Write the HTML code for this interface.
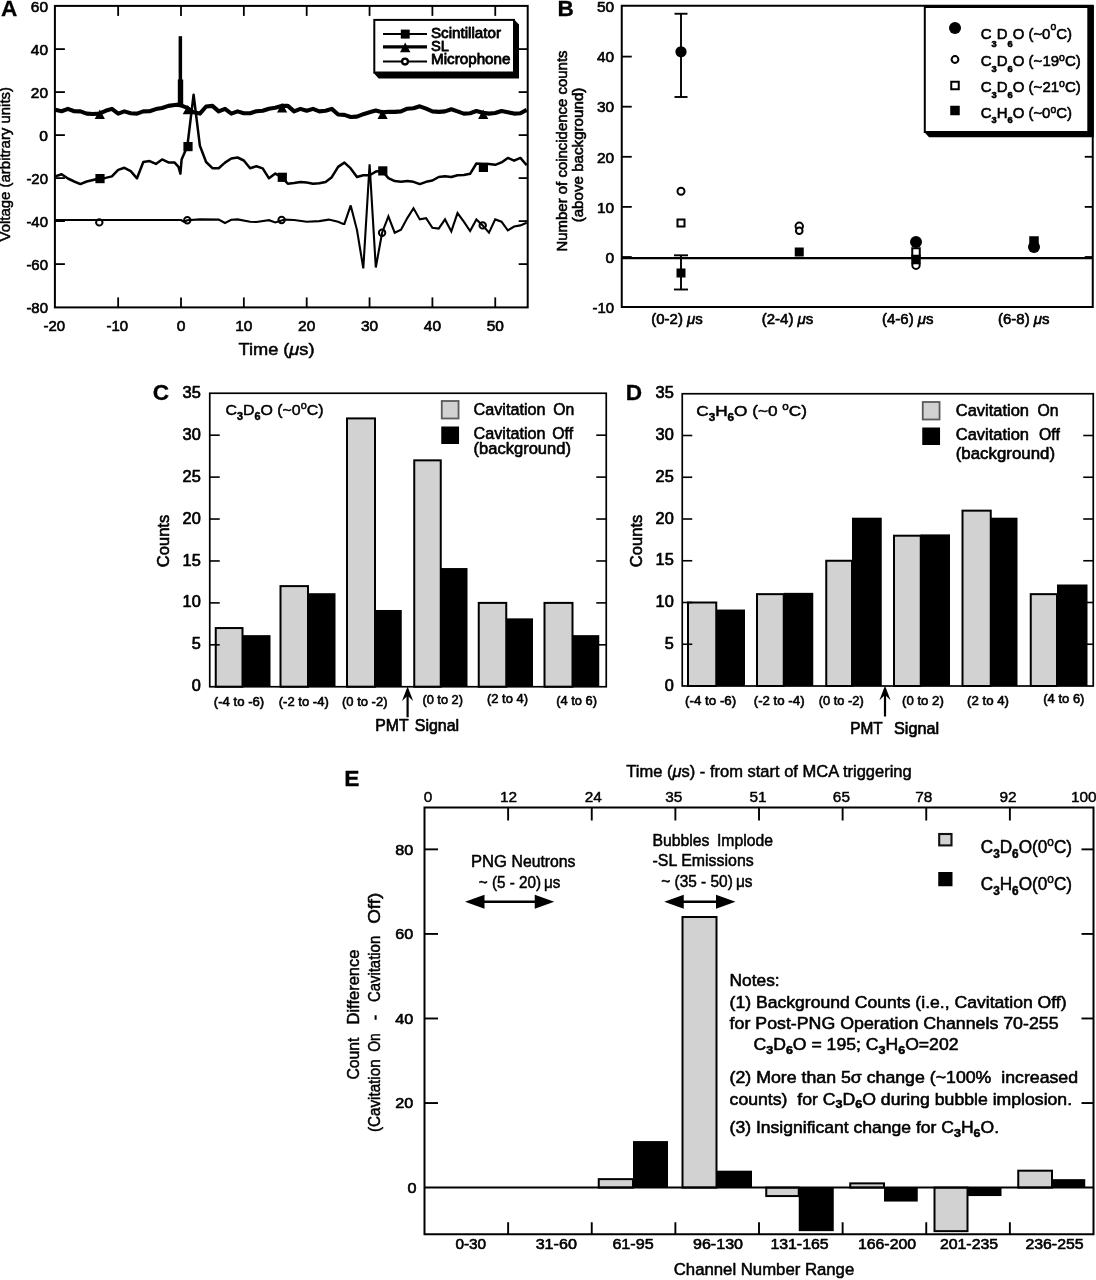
<!DOCTYPE html>
<html lang="en">
<head>
<meta charset="utf-8">
<title>Figure: coincidence and neutron count data</title>
<style>
html,body{margin:0;padding:0;background:#fff;}
body{width:1096px;height:1280px;overflow:hidden;}
svg{display:block;}
svg text{font-family:"Liberation Sans",sans-serif;fill:#000;stroke:#000;stroke-width:0.6px;stroke-linejoin:round;}
svg line, svg polyline{stroke:#000;}
svg rect, svg circle, svg polygon{shape-rendering:geometricPrecision;}
</style>
</head>
<body>
<svg width="1096" height="1280" viewBox="0 0 1096 1280" fill="#000" stroke="none">
<rect x="0" y="0" width="1096" height="1280" fill="#fff"/>
<g id="panelA">
<rect x="54.90" y="5.90" width="472.80" height="301.50" fill="none" stroke="#000" stroke-width="2.0"/>
<line x1="54.9" y1="49.099999999999994" x2="64.9" y2="49.099999999999994" stroke-width="1.8"/>
<line x1="527.7" y1="49.099999999999994" x2="518.7" y2="49.099999999999994" stroke-width="1.8"/>
<line x1="54.9" y1="92.1" x2="64.9" y2="92.1" stroke-width="1.8"/>
<line x1="527.7" y1="92.1" x2="518.7" y2="92.1" stroke-width="1.8"/>
<line x1="54.9" y1="135.1" x2="64.9" y2="135.1" stroke-width="1.8"/>
<line x1="527.7" y1="135.1" x2="518.7" y2="135.1" stroke-width="1.8"/>
<line x1="54.9" y1="178.1" x2="64.9" y2="178.1" stroke-width="1.8"/>
<line x1="527.7" y1="178.1" x2="518.7" y2="178.1" stroke-width="1.8"/>
<line x1="54.9" y1="221.1" x2="64.9" y2="221.1" stroke-width="1.8"/>
<line x1="527.7" y1="221.1" x2="518.7" y2="221.1" stroke-width="1.8"/>
<line x1="54.9" y1="264.1" x2="64.9" y2="264.1" stroke-width="1.8"/>
<line x1="527.7" y1="264.1" x2="518.7" y2="264.1" stroke-width="1.8"/>
<line x1="118.15" y1="5.9" x2="118.15" y2="15.9" stroke-width="1.8"/>
<line x1="118.15" y1="307.4" x2="118.15" y2="297.4" stroke-width="1.8"/>
<line x1="181.0" y1="5.9" x2="181.0" y2="15.9" stroke-width="1.8"/>
<line x1="181.0" y1="307.4" x2="181.0" y2="297.4" stroke-width="1.8"/>
<line x1="243.85" y1="5.9" x2="243.85" y2="15.9" stroke-width="1.8"/>
<line x1="243.85" y1="307.4" x2="243.85" y2="297.4" stroke-width="1.8"/>
<line x1="306.7" y1="5.9" x2="306.7" y2="15.9" stroke-width="1.8"/>
<line x1="306.7" y1="307.4" x2="306.7" y2="297.4" stroke-width="1.8"/>
<line x1="369.55" y1="5.9" x2="369.55" y2="15.9" stroke-width="1.8"/>
<line x1="369.55" y1="307.4" x2="369.55" y2="297.4" stroke-width="1.8"/>
<line x1="432.4" y1="5.9" x2="432.4" y2="15.9" stroke-width="1.8"/>
<line x1="432.4" y1="307.4" x2="432.4" y2="297.4" stroke-width="1.8"/>
<line x1="495.25" y1="5.9" x2="495.25" y2="15.9" stroke-width="1.8"/>
<line x1="495.25" y1="307.4" x2="495.25" y2="297.4" stroke-width="1.8"/>
<text x="48" y="11.799999999999994" font-size="14.4" text-anchor="end" textLength="17.2" lengthAdjust="spacingAndGlyphs">60</text>
<text x="48" y="54.8" font-size="14.4" text-anchor="end" textLength="17.2" lengthAdjust="spacingAndGlyphs">40</text>
<text x="48" y="97.8" font-size="14.4" text-anchor="end" textLength="17.2" lengthAdjust="spacingAndGlyphs">20</text>
<text x="48" y="140.79999999999998" font-size="14.4" text-anchor="end" textLength="8.7" lengthAdjust="spacingAndGlyphs">0</text>
<text x="48" y="183.79999999999998" font-size="14.4" text-anchor="end" textLength="21.6" lengthAdjust="spacingAndGlyphs">-20</text>
<text x="48" y="226.79999999999998" font-size="14.4" text-anchor="end" textLength="21.6" lengthAdjust="spacingAndGlyphs">-40</text>
<text x="48" y="269.8" font-size="14.4" text-anchor="end" textLength="21.6" lengthAdjust="spacingAndGlyphs">-60</text>
<text x="48" y="312.8" font-size="14.4" text-anchor="end" textLength="21.6" lengthAdjust="spacingAndGlyphs">-80</text>
<text x="54.4" y="330.8" font-size="14.4" text-anchor="middle" textLength="21.6" lengthAdjust="spacingAndGlyphs">-20</text>
<text x="117.25" y="330.8" font-size="14.4" text-anchor="middle" textLength="21.6" lengthAdjust="spacingAndGlyphs">-10</text>
<text x="181.0" y="330.8" font-size="14.4" text-anchor="middle" textLength="8.7" lengthAdjust="spacingAndGlyphs">0</text>
<text x="243.85" y="330.8" font-size="14.4" text-anchor="middle" textLength="17.2" lengthAdjust="spacingAndGlyphs">10</text>
<text x="306.7" y="330.8" font-size="14.4" text-anchor="middle" textLength="17.2" lengthAdjust="spacingAndGlyphs">20</text>
<text x="369.55" y="330.8" font-size="14.4" text-anchor="middle" textLength="17.2" lengthAdjust="spacingAndGlyphs">30</text>
<text x="432.4" y="330.8" font-size="14.4" text-anchor="middle" textLength="17.2" lengthAdjust="spacingAndGlyphs">40</text>
<text x="495.25" y="330.8" font-size="14.4" text-anchor="middle" textLength="17.2" lengthAdjust="spacingAndGlyphs">50</text>
<text x="238.5" y="355" font-size="16" textLength="76" lengthAdjust="spacingAndGlyphs" style="stroke-width:0.5px">Time (<tspan font-style="italic">μ</tspan>s)</text>
<text transform="translate(10.2 164.2) rotate(-90)" font-size="15.5" text-anchor="middle" textLength="154.5" lengthAdjust="spacingAndGlyphs" style="stroke-width:0.5px">Voltage (arbitrary units)</text>
<text x="0.9" y="16.1" font-size="22.6" font-weight="bold" style="stroke-width:0.3px">A</text>
<polyline fill="none" stroke-width="4.1" stroke-linejoin="round" points="55.3,109.7 61.6,111.2 67.9,108.9 74.2,111.2 80.4,111.4 86.7,113.6 93.0,114.0 99.3,113.6 105.6,110.8 111.9,108.9 118.2,113.6 124.4,111.4 130.7,113.2 137.0,113.6 143.3,111.4 149.6,111.2 155.9,109.1 162.1,108.0 168.4,105.9 174.7,105.0 178.8,104.6 182.9,106.1 187.3,107.8 193.6,112.3 199.9,113.6 206.1,106.5 212.4,105.9 218.7,111.4 225.0,108.9 231.3,113.6 237.6,111.4 243.8,113.2 250.1,113.2 256.4,111.2 262.7,110.8 269.0,108.7 275.3,107.8 281.6,105.9 287.8,105.9 294.1,111.4 300.4,108.9 306.7,110.8 313.0,108.9 319.3,111.4 325.6,110.8 331.8,108.9 338.1,114.5 344.4,114.9 350.7,117.0 357.0,116.6 363.3,114.2 369.6,112.3 375.8,110.6 382.1,112.3 388.4,111.9 394.7,111.9 401.0,111.4 407.3,108.7 413.5,108.2 419.8,106.3 426.1,108.7 432.4,111.4 438.7,111.9 445.0,111.4 451.3,109.3 457.5,111.4 463.8,113.6 470.1,113.2 476.4,111.0 482.7,112.7 489.0,113.6 495.2,113.0 501.5,111.0 507.8,112.3 514.1,113.6 520.4,113.2 526.7,109.9"/>
<rect x="178.6" y="36.2" width="3.5" height="70.9"/>
<rect x="177.8" y="79.5" width="5.4" height="27.6"/>
<polyline fill="none" stroke-width="2.5" stroke-linejoin="round" points="55.3,176.4 61.6,174.2 67.9,178.5 74.2,181.5 80.4,184.1 86.7,181.5 93.0,180.0 99.3,178.5 105.6,177.9 111.9,176.4 118.2,169.9 124.4,167.8 130.7,171.2 137.0,178.3 143.3,162.0 149.6,161.1 155.9,163.9 162.1,159.4 168.4,162.4 174.7,162.6 178.5,166.9 180.4,173.6 181.6,159.6 184.1,153.8 187.3,146.5 193.6,94.7 199.9,145.8 206.1,162.0 212.4,168.2 218.7,168.2 225.0,162.6 231.3,158.5 237.6,157.5 243.8,160.5 250.1,168.2 256.4,166.3 262.7,168.4 269.0,178.3 275.3,173.6 281.6,177.2 287.8,183.7 294.1,183.0 300.4,182.0 306.7,182.6 313.0,183.7 319.3,183.3 325.6,182.0 331.8,177.2 338.1,166.9 344.4,162.6 350.7,168.4 357.0,177.0 363.3,175.3 369.6,175.3 375.8,171.6 382.1,170.8 388.4,178.1 394.7,181.1 401.0,181.8 407.3,181.1 413.5,181.8 419.8,184.1 426.1,181.8 432.4,180.5 438.7,177.0 445.0,176.2 451.3,177.0 457.5,175.3 463.8,174.9 470.1,173.8 476.4,163.5 482.7,163.9 489.0,163.9 495.2,164.8 501.5,162.4 507.8,157.9 514.1,160.7 520.4,157.9 526.7,165.2"/>
<polyline fill="none" stroke-width="2.1" stroke-linejoin="miter" stroke-miterlimit="3" points="55.3,220.0 181.0,220.0 184.1,221.7 187.3,220.2 199.9,219.4 218.7,219.6 225.0,223.0 231.3,219.8 237.6,219.4 250.1,221.7 256.4,222.0 269.0,220.2 275.3,222.4 284.7,219.6 294.1,220.0 306.7,221.7 319.3,221.1 328.7,219.6 338.1,221.7 343.2,223.9 344.4,223.9 350.7,205.4 357.0,230.1 363.3,268.4 369.6,164.3 375.8,267.5 382.1,232.7 388.4,216.4 394.7,232.7 401.0,229.7 407.3,218.1 413.5,208.2 419.8,219.4 426.1,218.1 432.4,227.8 438.7,228.6 445.0,219.4 451.3,231.4 457.5,213.1 463.8,221.7 470.1,231.0 476.4,219.4 482.7,225.4 489.0,232.7 495.2,219.4 501.5,221.7 507.8,230.3 514.1,226.5 520.4,225.4 526.7,222.8"/>
<rect x="95.4" y="174.0" width="9.2" height="9.2"/>
<rect x="183.4" y="142.0" width="9.2" height="9.2"/>
<rect x="277.7" y="172.7" width="9.2" height="9.2"/>
<rect x="378.2" y="166.3" width="9.2" height="9.2"/>
<rect x="478.8" y="162.8" width="9.2" height="9.2"/>
<polygon points="94.7,119.0 104.9,119.0 99.8,109.6"/>
<polygon points="182.7,114.3 192.9,114.3 187.8,104.9"/>
<polygon points="277.0,112.5 287.2,112.5 282.1,103.1"/>
<polygon points="377.5,119.0 387.7,119.0 382.6,109.6"/>
<polygon points="478.1,119.0 488.3,119.0 483.2,109.6"/>
<circle cx="99.3" cy="222.4" r="3.2" fill="none" stroke="#000" stroke-width="2"/>
<circle cx="187.3" cy="220.2" r="3.2" fill="none" stroke="#000" stroke-width="2"/>
<circle cx="281.6" cy="220.0" r="3.2" fill="none" stroke="#000" stroke-width="2"/>
<circle cx="382.1" cy="232.7" r="3.2" fill="none" stroke="#000" stroke-width="2"/>
<circle cx="482.7" cy="225.4" r="3.2" fill="none" stroke="#000" stroke-width="2"/>
<polygon points="373.2,72.6 378.6,78.4 519,78.4 519,24.4 514.2,19.4 514.2,72.6"/>
<rect x="374.30" y="19.90" width="139.70" height="52.60" fill="#fff" stroke="#000" stroke-width="2"/>
<line x1="383" y1="34.1" x2="427" y2="34.1" stroke-width="2.0"/>
<line x1="383" y1="46.9" x2="427" y2="46.9" stroke-width="3.1"/>
<line x1="383" y1="61.6" x2="427" y2="61.6" stroke-width="2.0"/>
<rect x="400.8" y="29.6" width="8.9" height="9"/>
<polygon points="400,52.2 410.4,52.2 405.2,42.4"/>
<circle cx="405" cy="61.6" r="2.9" fill="#fff" stroke="#000" stroke-width="2.3"/>
<text x="431" y="37.7" font-size="15" textLength="70" lengthAdjust="spacingAndGlyphs" style="stroke-width:0.8px">Scintillator</text>
<text x="431" y="50.9" font-size="15" textLength="18" lengthAdjust="spacingAndGlyphs" style="stroke-width:0.8px">SL</text>
<text x="431" y="64" font-size="15" textLength="79.5" lengthAdjust="spacingAndGlyphs" style="stroke-width:0.8px">Microphone</text>
</g>
<g id="panelB">
<rect x="621.75" y="5.75" width="471.00" height="301.25" fill="none" stroke="#000" stroke-width="2.0"/>
<line x1="621.75" y1="56.60000000000002" x2="631.75" y2="56.60000000000002" stroke-width="1.8"/>
<line x1="1092.75" y1="56.60000000000002" x2="1084.75" y2="56.60000000000002" stroke-width="1.8"/>
<line x1="621.75" y1="106.70000000000002" x2="631.75" y2="106.70000000000002" stroke-width="1.8"/>
<line x1="1092.75" y1="106.70000000000002" x2="1084.75" y2="106.70000000000002" stroke-width="1.8"/>
<line x1="621.75" y1="156.8" x2="631.75" y2="156.8" stroke-width="1.8"/>
<line x1="1092.75" y1="156.8" x2="1084.75" y2="156.8" stroke-width="1.8"/>
<line x1="621.75" y1="206.9" x2="631.75" y2="206.9" stroke-width="1.8"/>
<line x1="1092.75" y1="206.9" x2="1084.75" y2="206.9" stroke-width="1.8"/>
<line x1="621.75" y1="257.0" x2="631.75" y2="257.0" stroke-width="1.8"/>
<line x1="1092.75" y1="257.0" x2="1084.75" y2="257.0" stroke-width="1.8"/>
<line x1="621.75" y1="258.2" x2="1092.75" y2="258.2" stroke-width="2.3"/>
<text x="614.2" y="12.2" font-size="14.4" text-anchor="end" textLength="17.2" lengthAdjust="spacingAndGlyphs">50</text>
<text x="614.2" y="62.300000000000026" font-size="14.4" text-anchor="end" textLength="17.2" lengthAdjust="spacingAndGlyphs">40</text>
<text x="614.2" y="112.40000000000002" font-size="14.4" text-anchor="end" textLength="17.2" lengthAdjust="spacingAndGlyphs">30</text>
<text x="614.2" y="162.5" font-size="14.4" text-anchor="end" textLength="17.2" lengthAdjust="spacingAndGlyphs">20</text>
<text x="614.2" y="212.6" font-size="14.4" text-anchor="end" textLength="17.2" lengthAdjust="spacingAndGlyphs">10</text>
<text x="614.2" y="262.7" font-size="14.4" text-anchor="end" textLength="8.7" lengthAdjust="spacingAndGlyphs">0</text>
<text x="614.2" y="312.8" font-size="14.4" text-anchor="end" textLength="21.6" lengthAdjust="spacingAndGlyphs">-10</text>
<text x="677" y="324" font-size="14.2" text-anchor="middle" textLength="51.5" lengthAdjust="spacingAndGlyphs">(0-2) <tspan font-style="italic">μ</tspan>s</text>
<text x="787.5" y="324" font-size="14.2" text-anchor="middle" textLength="51.5" lengthAdjust="spacingAndGlyphs">(2-4) <tspan font-style="italic">μ</tspan>s</text>
<text x="907.75" y="324" font-size="14.2" text-anchor="middle" textLength="51.5" lengthAdjust="spacingAndGlyphs">(4-6) <tspan font-style="italic">μ</tspan>s</text>
<text x="1023.75" y="324" font-size="14.2" text-anchor="middle" textLength="51.5" lengthAdjust="spacingAndGlyphs">(6-8) <tspan font-style="italic">μ</tspan>s</text>
<text transform="translate(566.5 151) rotate(-90)" font-size="14.6" text-anchor="middle" textLength="201" lengthAdjust="spacingAndGlyphs">Number of coincidence counts</text>
<text transform="translate(583 155) rotate(-90)" font-size="14.6" text-anchor="middle" textLength="134.7" lengthAdjust="spacingAndGlyphs">(above background)</text>
<text x="557.4" y="16.1" font-size="22.6" font-weight="bold" style="stroke-width:0.3px">B</text>
<line x1="681" y1="13.75" x2="681" y2="97" stroke-width="1.9"/>
<line x1="674.5" y1="13.75" x2="687.5" y2="13.75" stroke-width="1.9"/>
<line x1="674.5" y1="97" x2="687.5" y2="97" stroke-width="1.9"/>
<circle cx="681" cy="51.75" r="5.6"/>
<circle cx="681" cy="191.25" r="3.5" fill="#fff" stroke="#000" stroke-width="2"/>
<rect x="677.5" y="219.5" width="7" height="7" fill="#fff" stroke="#000" stroke-width="2"/>
<line x1="681" y1="255.3" x2="681" y2="289.5" stroke-width="1.9"/>
<line x1="674" y1="255.3" x2="688" y2="255.3" stroke-width="1.9"/>
<line x1="674" y1="289.5" x2="688" y2="289.5" stroke-width="1.9"/>
<rect x="676.5" y="268.5" width="9" height="9"/>
<circle cx="799.25" cy="226.2" r="3.7" fill="#fff" stroke="#000" stroke-width="2"/>
<circle cx="799.25" cy="230.8" r="3.3" fill="#fff" stroke="#000" stroke-width="2"/>
<rect x="794.75" y="247.5" width="9" height="9"/>
<circle cx="916" cy="265.2" r="3.7" fill="#fff" stroke="#000" stroke-width="2"/>
<rect x="911.25" y="254.75" width="9.5" height="9.5"/>
<rect x="912.25" y="248.25" width="7.5" height="7.5" fill="#fff" stroke="#000" stroke-width="2"/>
<circle cx="916" cy="242" r="6"/>
<rect x="1029.25" y="236.25" width="9.5" height="9.5"/>
<circle cx="1034" cy="247" r="6"/>
<polygon points="924.2,132 929,137.3 1093.8,137.3 1093.8,5.5 1088,5.5 1088,132"/>
<rect x="924.80" y="7.00" width="163.50" height="125.00" fill="#fff" stroke="#000" stroke-width="2"/>
<circle cx="955" cy="28" r="6"/>
<circle cx="955" cy="59.5" r="3.4" fill="#fff" stroke="#000" stroke-width="2"/>
<rect x="951.25" y="81.75" width="7.5" height="7.5" fill="#fff" stroke="#000" stroke-width="2"/>
<rect x="950.25" y="105.75" width="9.5" height="9.5"/>
<text x="980.75" y="38.75" font-size="15.5" textLength="91.25" lengthAdjust="spacingAndGlyphs">C<tspan font-size="9.6" font-weight="bold" dy="7.8">3</tspan><tspan dy="-7.8">D</tspan><tspan font-size="9.6" font-weight="bold" dy="7.8">6</tspan><tspan dy="-7.8">O</tspan> (~0<tspan font-size="10.8" dy="-8.5">o</tspan><tspan dy="8.5">C</tspan>)</text>
<text x="980.75" y="66.25" font-size="15.5" textLength="100" lengthAdjust="spacingAndGlyphs">C<tspan font-size="9.6" font-weight="bold" dy="5.6">3</tspan><tspan dy="-5.6">D</tspan><tspan font-size="9.6" font-weight="bold" dy="5.6">6</tspan><tspan dy="-5.6">O</tspan> (~19<tspan font-size="10.8" dy="-5">o</tspan><tspan dy="5">C</tspan>)</text>
<text x="980.75" y="92" font-size="15.5" textLength="100" lengthAdjust="spacingAndGlyphs">C<tspan font-size="9.6" font-weight="bold" dy="5.6">3</tspan><tspan dy="-5.6">D</tspan><tspan font-size="9.6" font-weight="bold" dy="5.6">6</tspan><tspan dy="-5.6">O</tspan> (~21<tspan font-size="10.8" dy="-5">o</tspan><tspan dy="5">C</tspan>)</text>
<text x="980.75" y="117.5" font-size="15.5" textLength="91.25" lengthAdjust="spacingAndGlyphs">C<tspan font-size="9.6" font-weight="bold" dy="5.6">3</tspan><tspan dy="-5.6">H</tspan><tspan font-size="9.6" font-weight="bold" dy="5.6">6</tspan><tspan dy="-5.6">O</tspan> (~0<tspan font-size="10.8" dy="-5">o</tspan><tspan dy="5">C</tspan>)</text>
</g>
<g id="panelC">
<rect x="242.50" y="635.14" width="28.00" height="51.61"/>
<rect x="215.75" y="628.05" width="26.75" height="58.70" fill="#d2d2d2" stroke="#000" stroke-width="2.0"/>
<rect x="308.00" y="593.21" width="27.50" height="93.54"/>
<rect x="280.50" y="586.12" width="27.50" height="100.63" fill="#d2d2d2" stroke="#000" stroke-width="2.0"/>
<rect x="375.00" y="609.98" width="26.75" height="76.77"/>
<rect x="347.00" y="418.41" width="28.00" height="268.34" fill="#d2d2d2" stroke="#000" stroke-width="2.0"/>
<rect x="440.75" y="568.05" width="26.75" height="118.70"/>
<rect x="414.25" y="460.34" width="26.50" height="226.41" fill="#d2d2d2" stroke="#000" stroke-width="2.0"/>
<rect x="506.25" y="618.36" width="26.75" height="68.39"/>
<rect x="478.75" y="602.89" width="27.50" height="83.86" fill="#d2d2d2" stroke="#000" stroke-width="2.0"/>
<rect x="572.50" y="635.14" width="26.75" height="51.61"/>
<rect x="544.50" y="602.89" width="28.00" height="83.86" fill="#d2d2d2" stroke="#000" stroke-width="2.0"/>
<rect x="209.75" y="393.25" width="396.50" height="293.50" fill="none" stroke="#000" stroke-width="1.7"/>
<line x1="209.75" y1="644.8214285714286" x2="219.75" y2="644.8214285714286" stroke-width="1.6"/>
<line x1="606.25" y1="644.8214285714286" x2="596.25" y2="644.8214285714286" stroke-width="1.6"/>
<line x1="209.75" y1="602.8928571428571" x2="219.75" y2="602.8928571428571" stroke-width="1.6"/>
<line x1="606.25" y1="602.8928571428571" x2="596.25" y2="602.8928571428571" stroke-width="1.6"/>
<line x1="209.75" y1="560.9642857142857" x2="219.75" y2="560.9642857142857" stroke-width="1.6"/>
<line x1="606.25" y1="560.9642857142857" x2="596.25" y2="560.9642857142857" stroke-width="1.6"/>
<line x1="209.75" y1="519.0357142857142" x2="219.75" y2="519.0357142857142" stroke-width="1.6"/>
<line x1="606.25" y1="519.0357142857142" x2="596.25" y2="519.0357142857142" stroke-width="1.6"/>
<line x1="209.75" y1="477.10714285714283" x2="219.75" y2="477.10714285714283" stroke-width="1.6"/>
<line x1="606.25" y1="477.10714285714283" x2="596.25" y2="477.10714285714283" stroke-width="1.6"/>
<line x1="209.75" y1="435.17857142857144" x2="219.75" y2="435.17857142857144" stroke-width="1.6"/>
<line x1="606.25" y1="435.17857142857144" x2="596.25" y2="435.17857142857144" stroke-width="1.6"/>
<text x="200.75" y="691.35" font-size="16.3" text-anchor="end" style="stroke-width:0.7px">0</text>
<text x="200.75" y="649.4214285714286" font-size="16.3" text-anchor="end" style="stroke-width:0.7px">5</text>
<text x="200.75" y="607.4928571428571" font-size="16.3" text-anchor="end" textLength="18.2" lengthAdjust="spacingAndGlyphs" style="stroke-width:0.7px">10</text>
<text x="200.75" y="565.5642857142857" font-size="16.3" text-anchor="end" textLength="18.2" lengthAdjust="spacingAndGlyphs" style="stroke-width:0.7px">15</text>
<text x="200.75" y="523.6357142857142" font-size="16.3" text-anchor="end" textLength="18.2" lengthAdjust="spacingAndGlyphs" style="stroke-width:0.7px">20</text>
<text x="200.75" y="481.70714285714286" font-size="16.3" text-anchor="end" textLength="18.2" lengthAdjust="spacingAndGlyphs" style="stroke-width:0.7px">25</text>
<text x="200.75" y="439.77857142857147" font-size="16.3" text-anchor="end" textLength="18.2" lengthAdjust="spacingAndGlyphs" style="stroke-width:0.7px">30</text>
<text x="200.75" y="397.85" font-size="16.3" text-anchor="end" textLength="18.2" lengthAdjust="spacingAndGlyphs" style="stroke-width:0.7px">35</text>
<text x="152.7" y="400.1" font-size="22.6" font-weight="bold" style="stroke-width:0.3px">C</text>
<text transform="translate(169.25 541.0) rotate(-90)" font-size="17" text-anchor="middle" textLength="52.5" lengthAdjust="spacingAndGlyphs" style="stroke-width:0.6px">Counts</text>
<text x="225.5" y="415" font-size="15.5" textLength="98" lengthAdjust="spacingAndGlyphs" style="stroke-width:0.5px">C<tspan font-size="10.5" font-weight="bold" dy="4.5">3</tspan><tspan dy="-4.5">D</tspan><tspan font-size="10.5" font-weight="bold" dy="4.5">6</tspan><tspan dy="-4.5">O</tspan> (~0<tspan font-size="10.5" dy="-6">o</tspan><tspan dy="6">C</tspan>)</text>
<text x="213.75" y="705.5" font-size="13" textLength="50.5" lengthAdjust="spacingAndGlyphs" style="stroke-width:0.6px">(-4 to -6)</text>
<text x="278.75" y="705.5" font-size="13" textLength="50.0" lengthAdjust="spacingAndGlyphs" style="stroke-width:0.6px">(-2 to -4)</text>
<text x="342" y="705.5" font-size="13" textLength="45.5" lengthAdjust="spacingAndGlyphs" style="stroke-width:0.6px">(0 to -2)</text>
<text x="422.4" y="703.7" font-size="13" textLength="40.6" lengthAdjust="spacingAndGlyphs" style="stroke-width:0.6px">(0 to 2)</text>
<text x="487" y="703" font-size="13" textLength="41" lengthAdjust="spacingAndGlyphs" style="stroke-width:0.6px">(2 to 4)</text>
<text x="556.25" y="704.5" font-size="13" textLength="40.8" lengthAdjust="spacingAndGlyphs" style="stroke-width:0.6px">(4 to 6)</text>
<line x1="407.6" y1="689.75" x2="407.6" y2="717.25" stroke-width="2.2"/>
<polygon points="407.6,686.45 402.0,700.95 407.6,695.75 413.20000000000005,700.95"/>
<text x="375.3" y="731" font-size="16.2" textLength="33.4" lengthAdjust="spacingAndGlyphs" style="stroke-width:0.65px">PMT</text>
<text x="414.8" y="731" font-size="16.2" textLength="44.3" lengthAdjust="spacingAndGlyphs" style="stroke-width:0.65px">Signal</text>
<rect x="441.75" y="401.00" width="16.80" height="17.50" fill="#d2d2d2" stroke="#5a5a5a" stroke-width="1.8"/>
<rect x="441.25" y="426.5" width="17.8" height="17.5"/>
<text x="473.5" y="414.5" font-size="16.2" textLength="72" lengthAdjust="spacingAndGlyphs" style="stroke-width:0.6px">Cavitation</text>
<text x="553.2" y="414.5" font-size="16.2" textLength="21" lengthAdjust="spacingAndGlyphs" style="stroke-width:0.6px">On</text>
<text x="473.5" y="438.6" font-size="16.2" textLength="72" lengthAdjust="spacingAndGlyphs" style="stroke-width:0.6px">Cavitation</text>
<text x="552.3" y="438.6" font-size="16.2" textLength="20.8" lengthAdjust="spacingAndGlyphs" style="stroke-width:0.6px">Off</text>
<text x="473.5" y="454.3" font-size="16.2" textLength="97.5" lengthAdjust="spacingAndGlyphs" style="stroke-width:0.6px">(background)</text>
</g>
<g id="panelD">
<rect x="716.25" y="609.55" width="28.75" height="76.45"/>
<rect x="688.00" y="602.50" width="28.25" height="83.50" fill="#d2d2d2" stroke="#000" stroke-width="2.0"/>
<rect x="783.75" y="592.85" width="29.50" height="93.15"/>
<rect x="757.00" y="594.15" width="26.75" height="91.85" fill="#d2d2d2" stroke="#000" stroke-width="2.0"/>
<rect x="852.00" y="517.70" width="29.75" height="168.30"/>
<rect x="826.25" y="560.75" width="25.75" height="125.25" fill="#d2d2d2" stroke="#000" stroke-width="2.0"/>
<rect x="920.75" y="534.40" width="29.25" height="151.60"/>
<rect x="894.00" y="535.70" width="26.75" height="150.30" fill="#d2d2d2" stroke="#000" stroke-width="2.0"/>
<rect x="990.75" y="517.70" width="26.75" height="168.30"/>
<rect x="962.50" y="510.65" width="28.25" height="175.35" fill="#d2d2d2" stroke="#000" stroke-width="2.0"/>
<rect x="1057.00" y="584.50" width="30.50" height="101.50"/>
<rect x="1030.75" y="594.15" width="26.25" height="91.85" fill="#d2d2d2" stroke="#000" stroke-width="2.0"/>
<rect x="682.25" y="393.75" width="411.00" height="292.25" fill="none" stroke="#000" stroke-width="1.7"/>
<line x1="682.25" y1="644.25" x2="692.25" y2="644.25" stroke-width="1.6"/>
<line x1="1093.25" y1="644.25" x2="1083.25" y2="644.25" stroke-width="1.6"/>
<line x1="682.25" y1="602.5" x2="692.25" y2="602.5" stroke-width="1.6"/>
<line x1="1093.25" y1="602.5" x2="1083.25" y2="602.5" stroke-width="1.6"/>
<line x1="682.25" y1="560.75" x2="692.25" y2="560.75" stroke-width="1.6"/>
<line x1="1093.25" y1="560.75" x2="1083.25" y2="560.75" stroke-width="1.6"/>
<line x1="682.25" y1="519.0" x2="692.25" y2="519.0" stroke-width="1.6"/>
<line x1="1093.25" y1="519.0" x2="1083.25" y2="519.0" stroke-width="1.6"/>
<line x1="682.25" y1="477.25" x2="692.25" y2="477.25" stroke-width="1.6"/>
<line x1="1093.25" y1="477.25" x2="1083.25" y2="477.25" stroke-width="1.6"/>
<line x1="682.25" y1="435.5" x2="692.25" y2="435.5" stroke-width="1.6"/>
<line x1="1093.25" y1="435.5" x2="1083.25" y2="435.5" stroke-width="1.6"/>
<text x="673.75" y="690.6" font-size="16.3" text-anchor="end" style="stroke-width:0.7px">0</text>
<text x="673.75" y="648.85" font-size="16.3" text-anchor="end" style="stroke-width:0.7px">5</text>
<text x="673.75" y="607.1" font-size="16.3" text-anchor="end" textLength="18.2" lengthAdjust="spacingAndGlyphs" style="stroke-width:0.7px">10</text>
<text x="673.75" y="565.35" font-size="16.3" text-anchor="end" textLength="18.2" lengthAdjust="spacingAndGlyphs" style="stroke-width:0.7px">15</text>
<text x="673.75" y="523.6" font-size="16.3" text-anchor="end" textLength="18.2" lengthAdjust="spacingAndGlyphs" style="stroke-width:0.7px">20</text>
<text x="673.75" y="481.85" font-size="16.3" text-anchor="end" textLength="18.2" lengthAdjust="spacingAndGlyphs" style="stroke-width:0.7px">25</text>
<text x="673.75" y="440.1" font-size="16.3" text-anchor="end" textLength="18.2" lengthAdjust="spacingAndGlyphs" style="stroke-width:0.7px">30</text>
<text x="673.75" y="398.35" font-size="16.3" text-anchor="end" textLength="18.2" lengthAdjust="spacingAndGlyphs" style="stroke-width:0.7px">35</text>
<text x="625.8" y="400.1" font-size="22.6" font-weight="bold" style="stroke-width:0.3px">D</text>
<text transform="translate(641.75 540.875) rotate(-90)" font-size="17" text-anchor="middle" textLength="52.5" lengthAdjust="spacingAndGlyphs" style="stroke-width:0.6px">Counts</text>
<text x="696.25" y="416.25" font-size="15.5" textLength="110.75" lengthAdjust="spacingAndGlyphs" style="stroke-width:0.5px">C<tspan font-size="10.5" font-weight="bold" dy="4.5">3</tspan><tspan dy="-4.5">H</tspan><tspan font-size="10.5" font-weight="bold" dy="4.5">6</tspan><tspan dy="-4.5">O</tspan> (~0 <tspan font-size="10.5" dy="-6">o</tspan><tspan dy="6">C</tspan>)</text>
<text x="685" y="705" font-size="13" textLength="51.2" lengthAdjust="spacingAndGlyphs" style="stroke-width:0.6px">(-4 to -6)</text>
<text x="753.75" y="705" font-size="13" textLength="50.8" lengthAdjust="spacingAndGlyphs" style="stroke-width:0.6px">(-2 to -4)</text>
<text x="818.75" y="705" font-size="13" textLength="45.0" lengthAdjust="spacingAndGlyphs" style="stroke-width:0.6px">(0 to -2)</text>
<text x="902" y="704.5" font-size="13" textLength="41.8" lengthAdjust="spacingAndGlyphs" style="stroke-width:0.6px">(0 to 2)</text>
<text x="967" y="704.5" font-size="13" textLength="42" lengthAdjust="spacingAndGlyphs" style="stroke-width:0.6px">(2 to 4)</text>
<text x="1043.25" y="703" font-size="13" textLength="41.2" lengthAdjust="spacingAndGlyphs" style="stroke-width:0.6px">(4 to 6)</text>
<line x1="885" y1="689" x2="885" y2="716.5" stroke-width="2.2"/>
<polygon points="885,685.7 879.4,700.2 885,695 890.6,700.2"/>
<text x="850.25" y="734.25" font-size="16.2" textLength="32.5" lengthAdjust="spacingAndGlyphs" style="stroke-width:0.65px">PMT</text>
<text x="894.0" y="734.25" font-size="16.2" textLength="45" lengthAdjust="spacingAndGlyphs" style="stroke-width:0.65px">Signal</text>
<rect x="922.75" y="402.00" width="16.80" height="17.50" fill="#d2d2d2" stroke="#5a5a5a" stroke-width="1.8"/>
<rect x="922.25" y="427.5" width="17.8" height="17.5"/>
<text x="955.75" y="415.5" font-size="16.2" textLength="73.25" lengthAdjust="spacingAndGlyphs" style="stroke-width:0.6px">Cavitation</text>
<text x="1037.5" y="415.5" font-size="16.2" textLength="21" lengthAdjust="spacingAndGlyphs" style="stroke-width:0.6px">On</text>
<text x="955.75" y="439.6" font-size="16.2" textLength="73.25" lengthAdjust="spacingAndGlyphs" style="stroke-width:0.6px">Cavitation</text>
<text x="1039.0" y="439.6" font-size="16.2" textLength="20.8" lengthAdjust="spacingAndGlyphs" style="stroke-width:0.6px">Off</text>
<text x="955.75" y="458.75" font-size="16.2" textLength="99.25" lengthAdjust="spacingAndGlyphs" style="stroke-width:0.6px">(background)</text>
</g>
<g id="panelE">
<rect x="633.00" y="1141.09" width="35.00" height="46.51"/>
<rect x="598.75" y="1179.14" width="34.25" height="8.46" fill="#d2d2d2" stroke="#000" stroke-width="2.0"/>
<rect x="716.50" y="1170.69" width="35.50" height="16.91"/>
<rect x="682.50" y="917.01" width="34.00" height="270.59" fill="#d2d2d2" stroke="#000" stroke-width="2.0"/>
<rect x="798.75" y="1187.60" width="35.00" height="43.55"/>
<rect x="766.25" y="1187.60" width="32.50" height="8.46" fill="#d2d2d2" stroke="#000" stroke-width="2.0"/>
<rect x="884.00" y="1187.60" width="33.75" height="13.95"/>
<rect x="850.25" y="1183.37" width="33.75" height="4.23" fill="#d2d2d2" stroke="#000" stroke-width="2.0"/>
<rect x="967.50" y="1187.60" width="34.00" height="8.46"/>
<rect x="934.50" y="1187.60" width="33.00" height="43.55" fill="#d2d2d2" stroke="#000" stroke-width="2.0"/>
<rect x="1052.00" y="1179.14" width="33.25" height="8.46"/>
<rect x="1018.25" y="1170.69" width="33.75" height="16.91" fill="#d2d2d2" stroke="#000" stroke-width="2.0"/>
<rect x="424.50" y="807.50" width="669.00" height="426.75" fill="none" stroke="#000" stroke-width="2.0"/>
<line x1="424.5" y1="1187.6" x2="1093.5" y2="1187.6" stroke-width="2.0"/>
<line x1="508.125" y1="807.5" x2="508.125" y2="820.5" stroke-width="1.9"/>
<line x1="508.125" y1="1234.25" x2="508.125" y2="1222.25" stroke-width="1.9"/>
<line x1="591.75" y1="807.5" x2="591.75" y2="820.5" stroke-width="1.9"/>
<line x1="591.75" y1="1234.25" x2="591.75" y2="1222.25" stroke-width="1.9"/>
<line x1="675.375" y1="807.5" x2="675.375" y2="820.5" stroke-width="1.9"/>
<line x1="675.375" y1="1234.25" x2="675.375" y2="1222.25" stroke-width="1.9"/>
<line x1="759.0" y1="807.5" x2="759.0" y2="820.5" stroke-width="1.9"/>
<line x1="759.0" y1="1234.25" x2="759.0" y2="1222.25" stroke-width="1.9"/>
<line x1="842.625" y1="807.5" x2="842.625" y2="820.5" stroke-width="1.9"/>
<line x1="842.625" y1="1234.25" x2="842.625" y2="1222.25" stroke-width="1.9"/>
<line x1="926.25" y1="807.5" x2="926.25" y2="820.5" stroke-width="1.9"/>
<line x1="926.25" y1="1234.25" x2="926.25" y2="1222.25" stroke-width="1.9"/>
<line x1="1009.875" y1="807.5" x2="1009.875" y2="820.5" stroke-width="1.9"/>
<line x1="1009.875" y1="1234.25" x2="1009.875" y2="1222.25" stroke-width="1.9"/>
<line x1="424.5" y1="849.3599999999999" x2="438.0" y2="849.3599999999999" stroke-width="1.9"/>
<line x1="1093.5" y1="849.3599999999999" x2="1081.5" y2="849.3599999999999" stroke-width="1.9"/>
<line x1="424.5" y1="933.92" x2="438.0" y2="933.92" stroke-width="1.9"/>
<line x1="1093.5" y1="933.92" x2="1081.5" y2="933.92" stroke-width="1.9"/>
<line x1="424.5" y1="1018.4799999999999" x2="438.0" y2="1018.4799999999999" stroke-width="1.9"/>
<line x1="1093.5" y1="1018.4799999999999" x2="1081.5" y2="1018.4799999999999" stroke-width="1.9"/>
<line x1="424.5" y1="1103.04" x2="438.0" y2="1103.04" stroke-width="1.9"/>
<line x1="1093.5" y1="1103.04" x2="1081.5" y2="1103.04" stroke-width="1.9"/>
<text x="413.3" y="854.6599999999999" font-size="14.6" text-anchor="end" textLength="18" lengthAdjust="spacingAndGlyphs">80</text>
<text x="413.3" y="939.2199999999999" font-size="14.6" text-anchor="end" textLength="18" lengthAdjust="spacingAndGlyphs">60</text>
<text x="413.3" y="1023.7799999999999" font-size="14.6" text-anchor="end" textLength="18" lengthAdjust="spacingAndGlyphs">40</text>
<text x="413.3" y="1108.34" font-size="14.6" text-anchor="end" textLength="18" lengthAdjust="spacingAndGlyphs">20</text>
<text x="416.4" y="1192.8999999999999" font-size="14.6" text-anchor="end" textLength="9" lengthAdjust="spacingAndGlyphs">0</text>
<text x="428" y="801.5" font-size="15.4" text-anchor="middle" style="stroke-width:0.45px">0</text>
<text x="508.5" y="801.5" font-size="15.4" text-anchor="middle" style="stroke-width:0.45px">12</text>
<text x="593.2" y="801.5" font-size="15.4" text-anchor="middle" style="stroke-width:0.45px">24</text>
<text x="673.75" y="801.5" font-size="15.4" text-anchor="middle" style="stroke-width:0.45px">35</text>
<text x="758" y="801.5" font-size="15.4" text-anchor="middle" style="stroke-width:0.45px">51</text>
<text x="841.4" y="801.5" font-size="15.4" text-anchor="middle" style="stroke-width:0.45px">65</text>
<text x="923.75" y="801.5" font-size="15.4" text-anchor="middle" style="stroke-width:0.45px">78</text>
<text x="1008" y="801.5" font-size="15.4" text-anchor="middle" style="stroke-width:0.45px">92</text>
<text x="1096.6" y="801.5" font-size="15.4" text-anchor="end" style="stroke-width:0.45px">100</text>
<text x="470.75" y="1249.25" font-size="14.5" text-anchor="middle" textLength="30.75" lengthAdjust="spacingAndGlyphs">0-30</text>
<text x="556.25" y="1249.25" font-size="14.5" text-anchor="middle" textLength="41.25" lengthAdjust="spacingAndGlyphs">31-60</text>
<text x="633" y="1249.25" font-size="14.5" text-anchor="middle" textLength="41.25" lengthAdjust="spacingAndGlyphs">61-95</text>
<text x="718" y="1249.25" font-size="14.5" text-anchor="middle" textLength="50" lengthAdjust="spacingAndGlyphs">96-130</text>
<text x="799.5" y="1249.25" font-size="14.5" text-anchor="middle" textLength="58.25" lengthAdjust="spacingAndGlyphs">131-165</text>
<text x="887" y="1249.25" font-size="14.5" text-anchor="middle" textLength="58.25" lengthAdjust="spacingAndGlyphs">166-200</text>
<text x="969" y="1249.25" font-size="14.5" text-anchor="middle" textLength="58.25" lengthAdjust="spacingAndGlyphs">201-235</text>
<text x="1054.5" y="1249.25" font-size="14.5" text-anchor="middle" textLength="58.25" lengthAdjust="spacingAndGlyphs">236-255</text>
<text x="626.25" y="777" font-size="16.3" textLength="285.5" lengthAdjust="spacingAndGlyphs" style="stroke-width:0.5px">Time (<tspan font-style="italic">μ</tspan>s) - from start of MCA triggering</text>
<text x="673.75" y="1275" font-size="16.3" textLength="180.5" lengthAdjust="spacingAndGlyphs" style="stroke-width:0.5px">Channel Number Range</text>
<text x="344.2" y="785.7" font-size="22.8" font-weight="bold" style="stroke-width:0.3px">E</text>
<text transform="translate(358.6 1079.6) rotate(-90)" font-size="16.5" textLength="42" lengthAdjust="spacingAndGlyphs" style="stroke-width:0.5px">Count</text>
<text transform="translate(358.6 1024.5) rotate(-90)" font-size="16.5" textLength="75" lengthAdjust="spacingAndGlyphs" style="stroke-width:0.5px">Difference</text>
<text transform="translate(379.6 1132) rotate(-90)" font-size="16.5" textLength="72.6" lengthAdjust="spacingAndGlyphs" style="stroke-width:0.5px">(Cavitation</text>
<text transform="translate(379.6 1051.8) rotate(-90)" font-size="16.5" textLength="18.6" lengthAdjust="spacingAndGlyphs" style="stroke-width:0.5px">On</text>
<text transform="translate(379.6 1020.2) rotate(-90)" font-size="16.5">-</text>
<text transform="translate(379.6 1002.1) rotate(-90)" font-size="16.5" textLength="66.3" lengthAdjust="spacingAndGlyphs" style="stroke-width:0.5px">Cavitation</text>
<text transform="translate(379.6 923.8) rotate(-90)" font-size="16.5" textLength="31" lengthAdjust="spacingAndGlyphs" style="stroke-width:0.5px">Off)</text>
<text x="471" y="867" font-size="16.3" textLength="36" lengthAdjust="spacingAndGlyphs" style="stroke-width:0.5px">PNG</text>
<text x="511.5" y="867" font-size="16.3" textLength="64" lengthAdjust="spacingAndGlyphs" style="stroke-width:0.5px">Neutrons</text>
<text x="478.75" y="888.25" font-size="16.3" textLength="81.75" lengthAdjust="spacingAndGlyphs" style="stroke-width:0.5px">~ (5 - 20) μs</text>
<text x="652.5" y="846.25" font-size="16.3" textLength="57" lengthAdjust="spacingAndGlyphs" style="stroke-width:0.5px">Bubbles</text>
<text x="717" y="846.25" font-size="16.3" textLength="56" lengthAdjust="spacingAndGlyphs" style="stroke-width:0.5px">Implode</text>
<text x="652.5" y="865.75" font-size="16.3" textLength="101.25" lengthAdjust="spacingAndGlyphs" style="stroke-width:0.5px">-SL Emissions</text>
<text x="661.25" y="887" font-size="16.3" textLength="91.25" lengthAdjust="spacingAndGlyphs" style="stroke-width:0.5px">~ (35 - 50) μs</text>
<line x1="475" y1="901.75" x2="544.25" y2="901.75" stroke-width="2.3"/>
<polygon points="465,901.75 484.5,894.75 484.5,908.75"/>
<polygon points="554.25,901.75 534.75,894.75 534.75,908.75"/>
<line x1="674.25" y1="901.75" x2="725.5" y2="901.75" stroke-width="2.3"/>
<polygon points="664.25,901.75 683.75,894.75 683.75,908.75"/>
<polygon points="735.5,901.75 716.0,894.75 716.0,908.75"/>
<rect x="939.20" y="834.00" width="12.30" height="11.40" fill="#d2d2d2" stroke="#111" stroke-width="2.1"/>
<rect x="938.25" y="872" width="14.25" height="14.25"/>
<text x="980.75" y="853" font-size="17.5" textLength="91.25" lengthAdjust="spacingAndGlyphs" style="stroke-width:0.5px">C<tspan font-size="12" font-weight="bold" dy="4.5">3</tspan><tspan dy="-4.5">D</tspan><tspan font-size="12" font-weight="bold" dy="4.5">6</tspan><tspan dy="-4.5">O</tspan>(0<tspan font-size="12" dy="-7">o</tspan><tspan dy="7">C</tspan>)</text>
<text x="980.75" y="890" font-size="17.5" textLength="91.25" lengthAdjust="spacingAndGlyphs" style="stroke-width:0.5px">C<tspan font-size="12" font-weight="bold" dy="4.5">3</tspan><tspan dy="-4.5">H</tspan><tspan font-size="12" font-weight="bold" dy="4.5">6</tspan><tspan dy="-4.5">O</tspan>(0<tspan font-size="12" dy="-7">o</tspan><tspan dy="7">C</tspan>)</text>
<text x="729.6" y="986" font-size="16.2" textLength="50" lengthAdjust="spacingAndGlyphs" style="stroke-width:0.55px">Notes:</text>
<text x="729.6" y="1007.7" font-size="16.2" textLength="337" lengthAdjust="spacingAndGlyphs" style="stroke-width:0.55px">(1) Background Counts (i.e., Cavitation Off)</text>
<text x="729.6" y="1028.6" font-size="16.2" textLength="329" lengthAdjust="spacingAndGlyphs" style="stroke-width:0.55px">for Post-PNG Operation Channels 70-255</text>
<text x="753.5" y="1050.3" font-size="16.2" textLength="205" lengthAdjust="spacingAndGlyphs" style="stroke-width:0.55px">C<tspan font-size="11.5" font-weight="bold" dy="3.5">3</tspan><tspan dy="-3.5">D</tspan><tspan font-size="11.5" font-weight="bold" dy="3.5">6</tspan><tspan dy="-3.5">O</tspan> = 195; C<tspan font-size="11.5" font-weight="bold" dy="3.5">3</tspan><tspan dy="-3.5">H</tspan><tspan font-size="11.5" font-weight="bold" dy="3.5">6</tspan><tspan dy="-3.5">O</tspan>=202</text>
<text x="729.6" y="1082.8" font-size="16.2" textLength="348.5" lengthAdjust="spacingAndGlyphs" style="stroke-width:0.55px">(2) More than 5σ change (~100%  increased</text>
<text x="729.6" y="1104.5" font-size="16.2" textLength="342.5" lengthAdjust="spacingAndGlyphs" style="stroke-width:0.55px">counts)  for C<tspan font-size="11.5" font-weight="bold" dy="3.5">3</tspan><tspan dy="-3.5">D</tspan><tspan font-size="11.5" font-weight="bold" dy="3.5">6</tspan><tspan dy="-3.5">O</tspan> during bubble implosion.</text>
<text x="729.6" y="1133.4" font-size="16.2" textLength="269.5" lengthAdjust="spacingAndGlyphs" style="stroke-width:0.55px">(3) Insignificant change for C<tspan font-size="11.5" font-weight="bold" dy="3.5">3</tspan><tspan dy="-3.5">H</tspan><tspan font-size="11.5" font-weight="bold" dy="3.5">6</tspan><tspan dy="-3.5">O</tspan>.</text>
</g>
</svg>
</body>
</html>
